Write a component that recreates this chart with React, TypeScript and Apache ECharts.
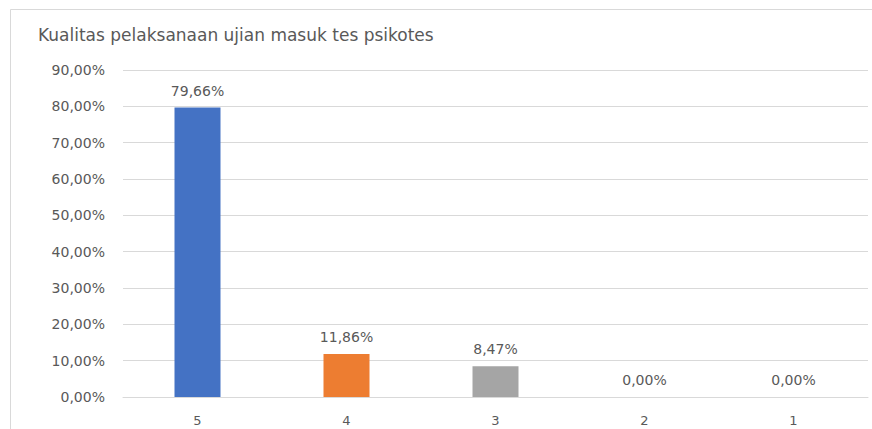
import React, { useEffect, useRef } from "react";
import * as echarts from "echarts";

const categories = ["5", "4", "3", "2", "1"];
const values = [79.66, 11.86, 8.47, 0, 0];
const barColors = ["#4472C4", "#ED7D31", "#A5A5A5", "#FFC000", "#5B9BD5"];
const titleText = "Kualitas pelaksanaan ujian masuk tes psikotes";

const fmt = (v: number) => v.toFixed(2).replace(".", ",") + "%";

export default function App() {
  const ref = useRef<HTMLDivElement>(null);
  useEffect(() => {
    if (!ref.current) return;
    const chart = echarts.init(ref.current, null, { renderer: "svg" });
    const font = "'DejaVu Sans', 'Open Sans', sans-serif";
    chart.setOption({
      animation: false,
      backgroundColor: "#ffffff",
      textStyle: { fontFamily: font },
      graphic: [
        {
          type: "rect",
          shape: { x: 10.5, y: 9.5, width: 900, height: 500 },
          style: { fill: "none", stroke: "#D9D9D9", lineWidth: 1 },
          silent: true,
        },
      ],
      title: {
        text: titleText,
        left: 33,
        top: 21,
        textStyle: { fontSize: 17, fontWeight: "normal", color: "#595959", fontFamily: font },
      },
      grid: { left: 123, right: 4, top: 70, bottom: 32 },
      xAxis: {
        type: "category",
        data: categories,
        axisTick: { show: false },
        axisLine: { lineStyle: { color: "#D9D9D9" } },
        axisLabel: { color: "#595959", fontSize: 13, margin: 17, fontFamily: font },
      },
      yAxis: {
        type: "value",
        min: 0,
        max: 90,
        interval: 10,
        axisLine: { show: false },
        axisTick: { show: false },
        splitLine: { lineStyle: { color: "#D9D9D9" } },
        axisLabel: {
          color: "#595959",
          fontSize: 14,
          margin: 18,
          fontFamily: font,
          formatter: (v: number) => fmt(v),
        },
      },
      series: [
        {
          type: "bar",
          barWidth: 46,
          data: values.map((v, i) => ({ value: v, itemStyle: { color: barColors[i] } })),
          label: {
            show: true,
            position: "top",
            distance: 10,
            color: "#595959",
            fontSize: 14,
            fontFamily: font,
            formatter: (p: any) => fmt(p.value),
          },
        },
      ],
    });
    return () => chart.dispose();
  }, []);
  return (
    <div
      ref={ref}
      style={{ position: "fixed", left: 0, top: 0, width: 872, height: 429 }}
    />
  );
}
